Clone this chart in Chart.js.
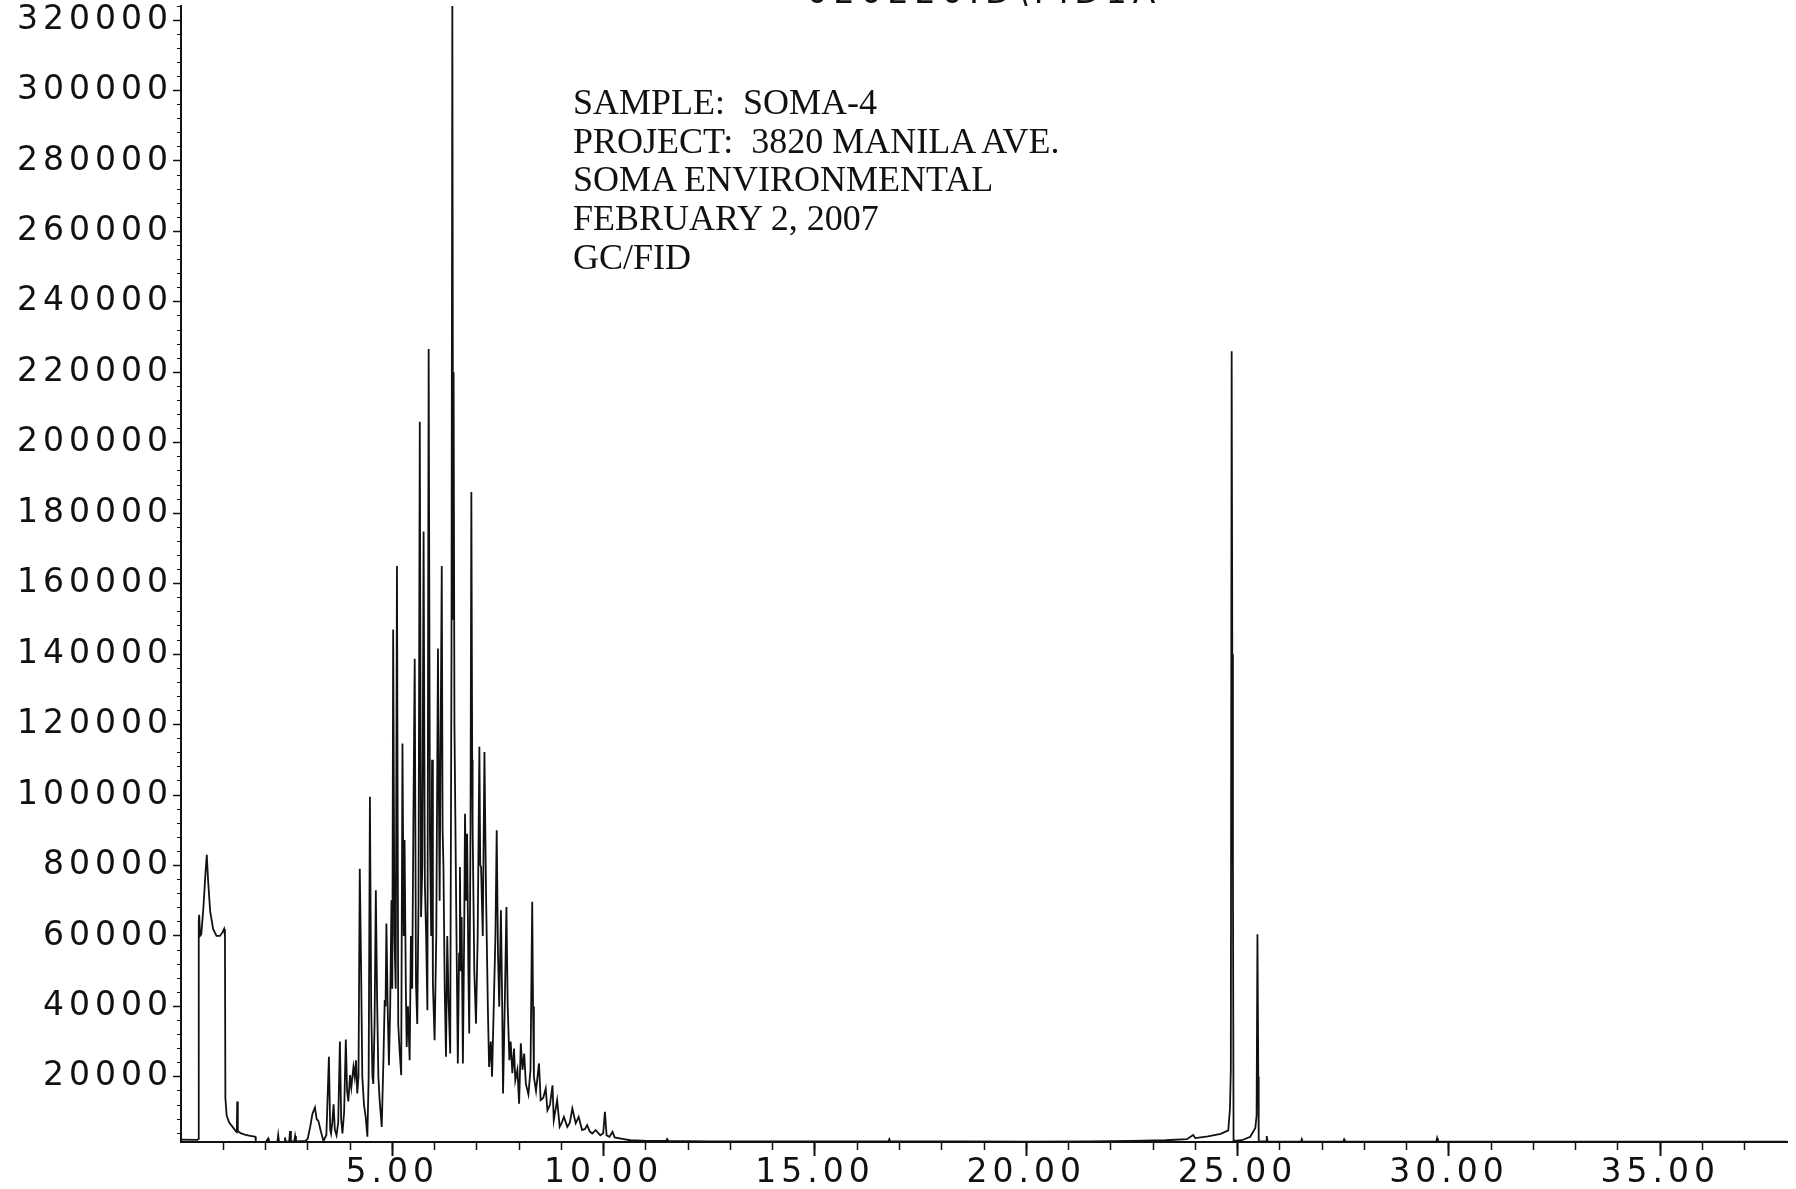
<!DOCTYPE html>
<html>
<head>
<meta charset="utf-8">
<title>GC/FID chromatogram - SOMA-4</title>
<script src="https://cdn.jsdelivr.net/npm/chart.js@4.4.1/dist/chart.umd.min.js"></script>
<style>
  html, body { margin: 0; padding: 0; background: #fff; overflow: hidden; }
  #wrap { position: relative; width: 1796px; height: 1189px; }
  #chart { position: absolute; left: 0; top: 0; }
  /* file name header, cut off at the top edge of the scan */
  #fileTitle {
    position: absolute; left: 779px; top: -23px; width: 410px;
    text-align: center; font-family: 'DejaVu Sans', sans-serif; font-size: 33px;
    line-height: 30px; letter-spacing: 6px; color: #111; white-space: pre;
  }
  /* sample annotation block */
  #note {
    position: absolute; left: 573px; top: 83px;
    font-family: 'Liberation Serif', serif; font-size: 36px;
    line-height: 38.7px; color: #111; white-space: pre;
  }
</style>
</head>
<body>
<div id="wrap">
  <canvas id="chart" width="1796" height="1189"></canvas>
  <div id="fileTitle">020220.D\FID1A</div>
  <div id="note">SAMPLE:  SOMA-4
PROJECT:  3820 MANILA AVE.
SOMA ENVIRONMENTAL
FEBRUARY 2, 2007
GC/FID</div>
</div>

<script>
// GC/FID trace for sample SOMA-4
// - x: retention time (min), y: detector response (counts)

// Retention times (min)
var retentionTimes = [
  0.00, 0.39, 0.41, 0.42, 0.43, 0.45, 0.48, 0.53, 0.58, 0.61, 0.64, 0.69, 0.76, 0.84, 0.92, 0.98,
  1.02, 1.04, 1.05, 1.08, 1.14, 1.22, 1.30, 1.32, 1.33, 1.345, 1.41, 1.51, 1.61, 1.71, 1.76, 1.77,
  2.01, 2.06, 2.08, 2.28, 2.30, 2.32, 2.44, 2.46, 2.48, 2.56, 2.58, 2.60, 2.68, 2.70, 2.72, 2.95,
  3.00, 3.06, 3.11, 3.17, 3.21, 3.25, 3.31, 3.37, 3.44, 3.50, 3.53, 3.55, 3.58, 3.61, 3.64, 3.68,
  3.72, 3.76, 3.79, 3.82, 3.86, 3.90, 3.93, 3.96, 4.00, 4.03, 4.08, 4.11, 4.14, 4.17, 4.20, 4.23,
  4.26, 4.29, 4.33, 4.37, 4.41, 4.44, 4.47, 4.50, 4.53, 4.55, 4.58, 4.61, 4.64, 4.67, 4.70, 4.75,
  4.79, 4.82, 4.84, 4.86, 4.89, 4.92, 4.95, 4.98, 5.00, 5.02, 5.05, 5.08, 5.11, 5.14, 5.17, 5.21,
  5.24, 5.27, 5.29, 5.32, 5.34, 5.37, 5.41, 5.44, 5.47, 5.50, 5.53, 5.56, 5.59, 5.62, 5.65, 5.68,
  5.71, 5.74, 5.77, 5.80, 5.83, 5.86, 5.89, 5.92, 5.94, 5.96, 6.00, 6.04, 6.08, 6.10, 6.12, 6.14,
  6.17, 6.19, 6.21, 6.24, 6.27, 6.30, 6.33, 6.37, 6.40, 6.42, 6.44, 6.45, 6.47, 6.51, 6.55, 6.58,
  6.60, 6.62, 6.64, 6.67, 6.70, 6.72, 6.75, 6.77, 6.80, 6.82, 6.85, 6.87, 6.89, 6.90, 6.94, 6.98,
  7.02, 7.06, 7.08, 7.10, 7.14, 7.18, 7.20, 7.22, 7.26, 7.29, 7.33, 7.36, 7.41, 7.44, 7.47, 7.50,
  7.53, 7.57, 7.60, 7.62, 7.66, 7.70, 7.73, 7.77, 7.80, 7.84, 7.88, 7.91, 7.96, 8.00, 8.04, 8.08,
  8.12, 8.16, 8.22, 8.27, 8.31, 8.33, 8.35, 8.40, 8.47, 8.51, 8.57, 8.63, 8.67, 8.73, 8.79, 8.82,
  8.90, 8.96, 9.01, 9.06, 9.14, 9.20, 9.26, 9.34, 9.41, 9.49, 9.56, 9.61, 9.67, 9.73, 9.81, 9.92,
  9.99, 10.03, 10.07, 10.14, 10.21, 10.26, 10.44, 10.63, 11.02, 11.48, 11.50, 11.52, 12.50, 14.00, 16.74, 16.76,
  16.78, 18.50, 20.00, 21.50, 22.50, 23.30, 23.80, 23.95, 24.00, 24.30, 24.60, 24.78, 24.82, 24.84, 24.86, 24.875,
  24.89, 24.905, 25.10, 25.30, 25.42, 25.45, 25.47, 25.49, 25.50, 25.68, 25.69, 25.71, 26.50, 26.52, 26.54, 27.50,
  27.52, 27.54, 29.70, 29.72, 29.74, 32.00, 35.00, 38.00
];

// Detector response at each retention time
var signalCounts = [
  2200, 2100, 2400, 64000, 66000, 60000, 60500, 68000, 78000, 83000, 76000, 67000, 62000, 60000, 60000, 61000,
  62000, 60000, 14000, 9000, 7000, 5800, 4500, 4300, 13000, 4600, 4000, 3600, 3300, 3100, 3000, 1500,
  1500, 2500, 1500, 1500, 3500, 1500, 1600, 2800, 1600, 1600, 4600, 1700, 1700, 3200, 1700, 1800,
  2500, 6000, 9500, 11300, 8000, 7500, 4500, 1800, 3500, 25700, 5000, 3900, 7000, 12200, 5000, 3400,
  7000, 30000, 8000, 3900, 10000, 30600, 16000, 13000, 20500, 17000, 22800, 20000, 24700, 15300, 20000, 79100,
  52000, 20000, 12000, 8600, 3000, 20000, 99500, 40000, 20000, 18000, 35000, 73000, 42000, 20000, 13400, 5800,
  25000, 41800, 40000, 63500, 40000, 23300, 40000, 70100, 45000, 147000, 60000, 45000, 165000, 35000, 28000, 20500,
  114600, 60000, 87200, 45000, 28500, 40000, 24700, 60000, 45000, 95000, 138700, 46500, 35000, 70000, 206000, 65400,
  80000, 174800, 74900, 60000, 38900, 226600, 89100, 60000, 110000, 46500, 30400, 60000, 141600, 103300, 70000, 110000,
  165000, 90000, 79600, 45000, 25700, 60000, 41800, 26600, 140000, 326000, 150000, 220000, 120000, 70100, 23800, 55000,
  79600, 50000, 65400, 23800, 60000, 94700, 70000, 89000, 50000, 32300, 90000, 186000, 110000, 91000, 50000, 35100,
  60000, 113700, 80000, 79600, 60000, 112200, 90000, 70100, 40000, 22800, 30000, 20000, 45000, 60000, 90000, 55000,
  39900, 67300, 40000, 15300, 40000, 68200, 40000, 24700, 30000, 21000, 28000, 19000, 22000, 12400, 29500, 22000,
  26600, 18000, 15000, 22000, 69700, 40000, 20000, 16000, 23800, 13400, 14000, 16700, 10500, 12000, 17600, 7700,
  13400, 5800, 7000, 8600, 5800, 7000, 11000, 6800, 8600, 4900, 5200, 6300, 4500, 3900, 4900, 3400,
  4000, 10100, 3400, 3000, 4400, 2800, 2400, 2000, 1800, 1800, 2300, 1800, 1700, 1650, 1700, 2300,
  1700, 1650, 1600, 1700, 1800, 2000, 2300, 3500, 2600, 3100, 3800, 4800, 11000, 22000, 226000, 140000,
  80000, 1800, 2000, 3000, 5500, 9000, 60500, 20000, 1700, 1700, 3200, 1600, 1600, 2300, 1600, 1600,
  2200, 1600, 1600, 2600, 1600, 1600, 1600, 1600
];

// Axis ranges and tick marks
var xRange = [0, 38];
var yRange = [1500, 324000];
var xTickValues = [5, 10, 15, 20, 25, 30, 35];
var xMinorTicks = [1, 2, 3, 4, 5, 6, 7, 8, 9, 10, 11, 12, 13, 14, 15, 16, 17, 18, 19,
                   20, 21, 22, 23, 24, 25, 26, 27, 28, 29, 30, 31, 32, 33, 34, 35, 36, 37];
var yTickValues = [20000, 40000, 60000, 80000, 100000, 120000, 140000, 160000,
                   180000, 200000, 220000, 240000, 260000, 280000, 300000, 320000];
var yMinorStep = 4000;

var TICK_FONT = { family: "'DejaVu Sans', sans-serif", size: 33 };
var INK = '#111111';

// Widen tick lettering a bit (the printout uses a very wide face)
var letterSpacingPlugin = {
  id: 'letterSpacing',
  beforeDraw: function(chart) { chart.ctx.letterSpacing = '5px'; }
};

function toTicks(values) {
  return values.map(function(v) { return { value: v }; });
}

function initChart() {
  // Build the point list Chart.js needs from the two arrays
  var points = retentionTimes.map(function(t, i) {
    return { x: t, y: signalCounts[i] };
  });

  var canvas = document.getElementById('chart');

  new Chart(canvas, {
    type: 'line',
    data: {
      datasets: [{
        label:       'FID1 A',
        data:        points,
        borderColor: INK,
        borderWidth: 1.8,
        pointRadius: 0,
        tension:     0,
        fill:        false,
      }],
    },
    options: {
      responsive: false,
      animation:  false,
      layout: { padding: { left: 0, right: 9, top: 6, bottom: 0 } },
      plugins: {
        legend:  { display: false },
        tooltip: { enabled: false },
      },
      scales: {
        // labelled retention-time axis
        x: {
          type: 'linear', position: 'bottom', weight: 1,
          min: xRange[0], max: xRange[1],
          afterBuildTicks: function(scale) { scale.ticks = toTicks(xTickValues); },
          afterFit: function(scale) {
            scale.height = 47; scale.paddingLeft = 0; scale.paddingRight = 0;
          },
          ticks: {
            color: INK, font: TICK_FONT, padding: -2, maxRotation: 0, autoSkip: false,
            callback: function(val) { return Number(val).toFixed(2); },
          },
          grid:   { drawOnChartArea: false, tickLength: 14, tickColor: INK, tickWidth: 2 },
          border: { display: true, color: INK, width: 2 },
        },
        // one-minute minor ticks
        xMinor: {
          type: 'linear', position: 'bottom', weight: 0,
          min: xRange[0], max: xRange[1],
          afterBuildTicks: function(scale) { scale.ticks = toTicks(xMinorTicks); },
          afterFit: function(scale) {
            scale.height = 0; scale.paddingLeft = 0; scale.paddingRight = 0;
          },
          ticks:  { display: false },
          grid:   { drawOnChartArea: false, tickLength: 8, tickColor: INK, tickWidth: 1.5 },
          border: { display: false },
        },
        // labelled response axis
        y: {
          type: 'linear', position: 'left', weight: 1,
          min: yRange[0], max: yRange[1],
          afterBuildTicks: function(scale) { scale.ticks = toTicks(yTickValues); },
          afterFit: function(scale) {
            scale.width = 181; scale.paddingTop = 0; scale.paddingBottom = 0;
          },
          ticks: {
            color: INK, font: TICK_FONT, padding: 0, autoSkip: false,
            callback: function(val) { return String(val); },
          },
          grid:   { drawOnChartArea: false, tickLength: 8, tickColor: INK, tickWidth: 1.5 },
          border: { display: true, color: INK, width: 2 },
        },
        // small ticks every 4000 counts
        yMinor: {
          type: 'linear', position: 'left', weight: 0,
          min: yRange[0], max: yRange[1],
          afterBuildTicks: function(scale) {
            var ticks = [];
            for (var v = yMinorStep; v <= yRange[1]; v += yMinorStep) { ticks.push({ value: v }); }
            scale.ticks = ticks;
          },
          afterFit: function(scale) {
            scale.width = 0; scale.paddingTop = 0; scale.paddingBottom = 0;
          },
          ticks:  { display: false },
          grid:   { drawOnChartArea: false, tickLength: 4, tickColor: INK, tickWidth: 1 },
          border: { display: false },
        },
      },
    },
    plugins: [letterSpacingPlugin],
  });
}

document.addEventListener('DOMContentLoaded', initChart);
</script>
</body>
</html>
